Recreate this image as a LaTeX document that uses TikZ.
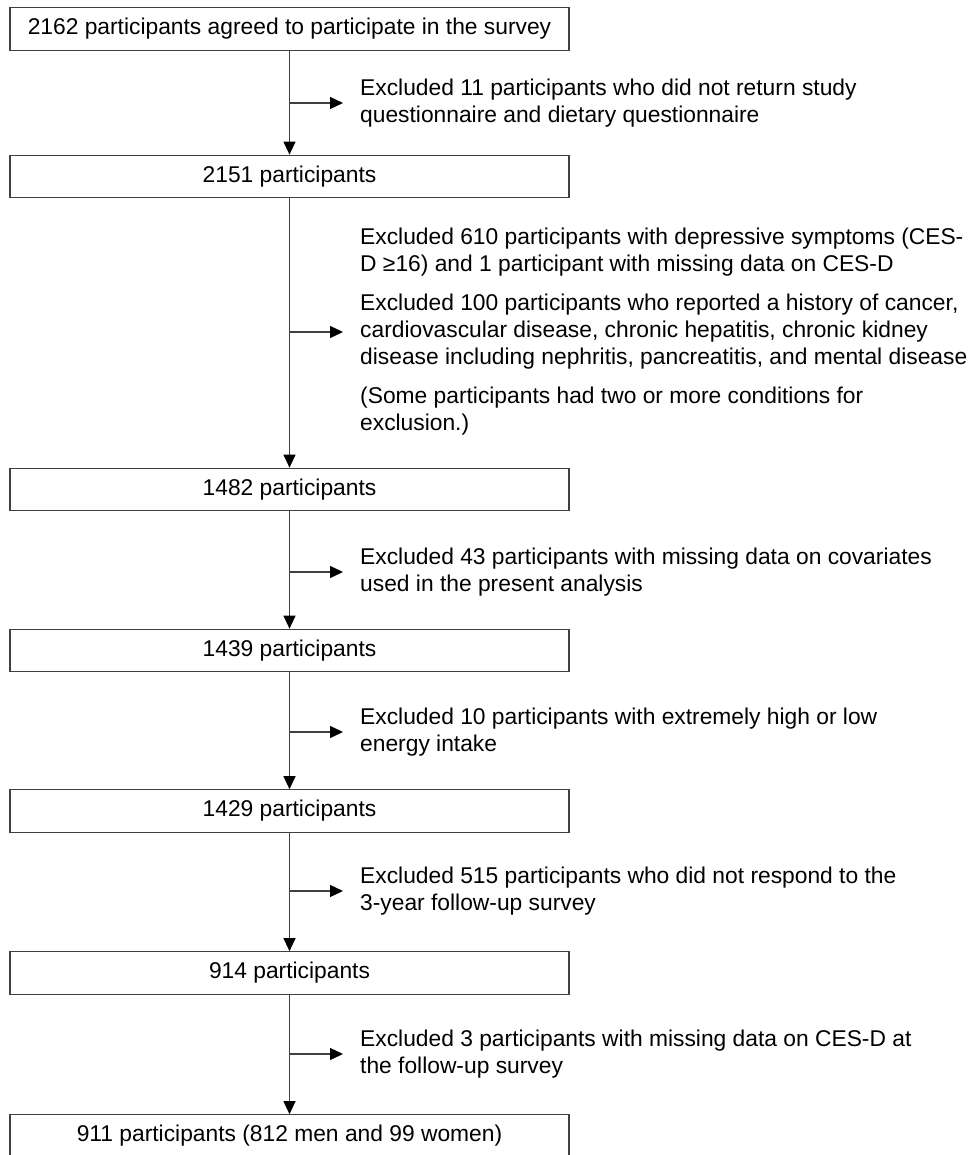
\documentclass[tikz,border=0pt]{standalone}
\usepackage{fontspec}
\setmainfont{Liberation Sans}
\usetikzlibrary{calc,positioning,arrows.meta}
\definecolor{linegrey}{gray}{0.25}

\begin{document}
\begin{tikzpicture}[x=1pt,y=1pt]

\tikzset{boxnode/.style={draw=linegrey,line width=1.2pt,minimum width=559pt,minimum height=42.5pt,inner sep=0pt,font=\fontsize{22.8}{27}\selectfont},
exclnode/.style={anchor=west,align=left,inner xsep=17pt,inner ysep=0pt,font=\fontsize{22.8}{27}\selectfont},
flow/.style={draw=linegrey,line width=1.2pt,-{Triangle[length=13pt,width=12pt,fill=black,color=black]}}}

\useasboundingbox (0,0) rectangle (968,-1155);

% Boxes
\node[boxnode] (n2162) at (289.5,-29) {2162 participants agreed to participate in the survey};
\node[boxnode] (n2151) at (289.5,-176.5) {2151 participants};
\node[boxnode] (n1482) at (289.5,-489.5) {1482 participants};
\node[boxnode] (n1439) at (289.5,-650.5) {1439 participants};
\node[boxnode] (n1429) at (289.5,-811) {1429 participants};
\node[boxnode] (n914) at (289.5,-973) {914 participants};
\node[boxnode] (n911) at (289.5,-1136) {911 participants (812 men and 99 women)};

% Exclusions
\node[exclnode] (ex11) at (343,-103) {Excluded 11 participants who did not return study\\questionnaire and dietary questionnaire};
\node[exclnode] (ex610) at (343,-332) {Excluded 610 participants with depressive symptoms (CES-\\D ≥16) and 1 participant with missing data on CES-D\\[12pt]Excluded 100 participants who reported a history of cancer,\\cardiovascular disease, chronic hepatitis, chronic kidney\\disease including nephritis, pancreatitis, and mental disease\\[12pt](Some participants had two or more conditions for\\exclusion.)};
\node[exclnode] (ex43) at (343,-572) {Excluded 43 participants with missing data on covariates\\used in the present analysis};
\node[exclnode] (ex10) at (343,-732) {Excluded 10 participants with extremely high or low\\energy intake};
\node[exclnode] (ex515) at (343,-891) {Excluded 515 participants who did not respond to the\\3-year follow-up survey};
\node[exclnode] (ex3) at (343,-1054) {Excluded 3 participants with missing data on CES-D at\\the follow-up survey};

% Arrows
\foreach \a/\b in {n2162/n2151, n2151/n1482, n1482/n1439, n1439/n1429, n1429/n914, n914/n911} \draw[flow] (\a) -- (\b);
\foreach \a/\e in {n2162/ex11, n2151/ex610, n1482/ex43, n1439/ex10, n1429/ex515, n914/ex3} {
  \coordinate (j\e) at (\a.south |- \e.west);
  \draw[flow] (j\e) -- (\e.west);
}

\end{tikzpicture}
\end{document}
